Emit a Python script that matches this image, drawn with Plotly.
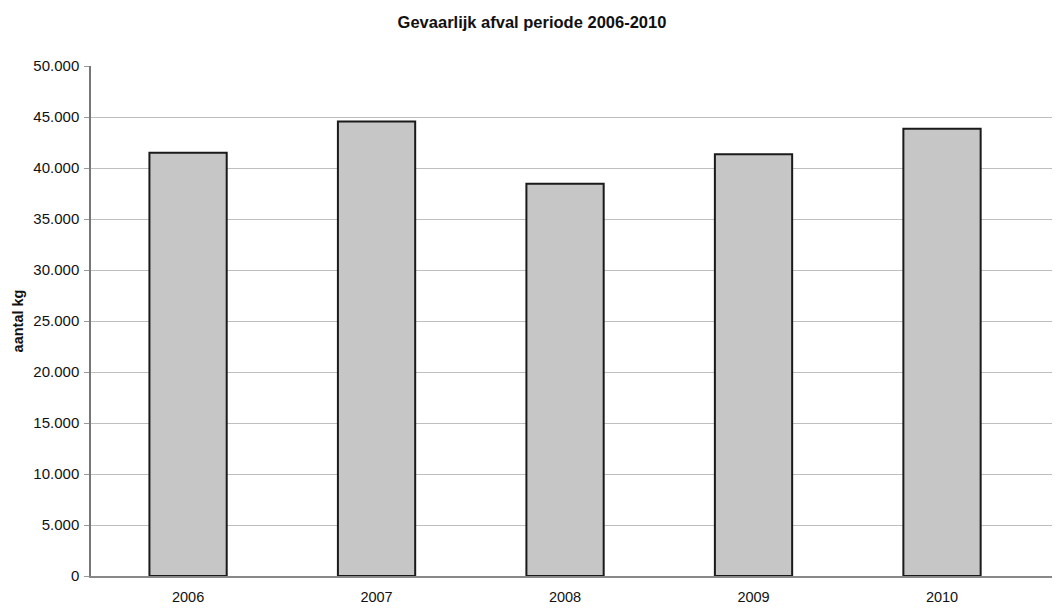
import plotly.graph_objects as go

years = ["2006", "2007", "2008", "2009", "2010"]
kg = [41500, 44550, 38450, 41350, 43850]
title = "Gevaarlijk afval periode 2006-2010"
y_title = "aantal kg"

fig = go.Figure()
fig.add_trace(go.Bar(
    x=years, y=kg,
    width=0.41,
    marker=dict(color="#c6c6c6", line=dict(color="#1a1a1a", width=2)),
))

fig.update_layout(
    width=1060, height=608,
    margin=dict(l=83, r=8, t=58, b=40, autoexpand=False),
    paper_bgcolor="white", plot_bgcolor="white",
    separators=",.",
    font=dict(family="Liberation Sans, Arial, sans-serif", size=15, color="#111"),
    title=dict(text="<b>" + title + "</b>", x=524 / 1060, xanchor="center",
               y=1 - 14 / 608, yanchor="middle",
               font=dict(size=16.5, color="#111")),
    showlegend=False,
)
fig.update_xaxes(
    type="category",
    range=[-0.515, 4.626],
    showline=True, linecolor="#888", linewidth=1.5,
    ticks="", tickfont=dict(size=14.5),
    ticklabelstandoff=7,
    showgrid=False,
)
fig.update_yaxes(
    range=[0, 50000], dtick=5000, tickformat=",d",
    showgrid=True, gridcolor="#bfbfbf", gridwidth=1.4,
    showline=True, linecolor="#777", linewidth=1.5,
    ticks="outside", ticklen=5, tickcolor="#999",
    tickfont=dict(size=15),
    ticklabelstandoff=2,
    zeroline=False,
    title=dict(text="<b>" + y_title + "</b>", font=dict(size=14.5), standoff=6),
)

fig.write_html("out.html")
